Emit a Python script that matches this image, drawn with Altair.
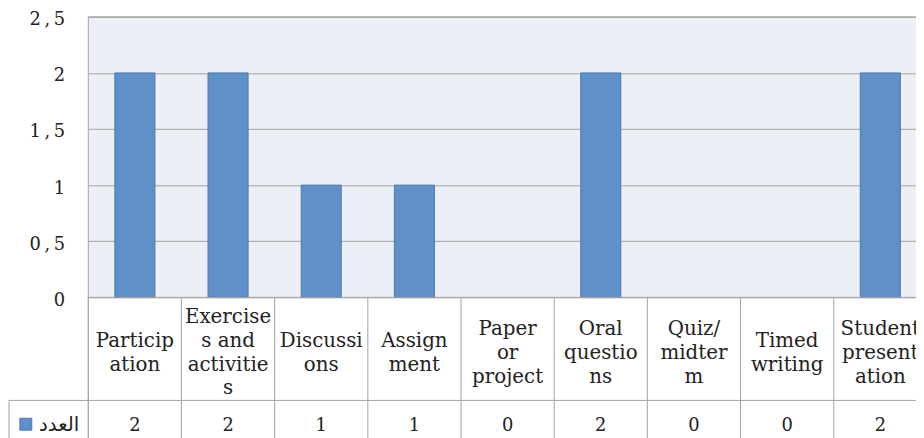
import altair as alt
import pandas as pd

categories = ["Participation", "Exercises and activities", "Discussions", "Assignment",
              "Paper or project", "Oral questions", "Quiz/ midterm", "Timed writing",
              "Student presentation"]
wrapped = ["Particip\nation", "Exercise\ns and\nactivitie\ns", "Discussi\nons", "Assign\nment",
           "Paper\nor\nproject", "Oral\nquestio\nns", "Quiz/\nmidter\nm", "Timed\nwriting",
           "Student\npresent\nation"]
values = [2, 2, 1, 1, 0, 2, 0, 0, 2]
series_name = "العدد"
y_ticks = [0, 0.5, 1, 1.5, 2, 2.5]

df = pd.DataFrame({"cat": categories, "label": wrapped, "val": values})
df["nlines"] = df["label"].str.count("\n") + 1
one = pd.DataFrame({"a": [0]})

W, H = 835, 283
RANGE = 846
LINE = "#A3A3A3"
BAR = "#6090C8"
BAR_STROKE = "#4A78AE"
SERIF = "DejaVu Serif"
TXT = "#222222"

xscale = alt.Scale(domain=categories, range=[0, RANGE], paddingInner=0, paddingOuter=0)
X = alt.X("cat:N", scale=xscale, axis=None)

bars = alt.Chart(df).transform_filter("datum.val > 0").mark_bar(
    width={"band": 0.43}, color=BAR, stroke=BAR_STROKE, strokeWidth=1
).encode(
    x=X,
    y=alt.Y("val:Q", scale=alt.Scale(domain=[0, 2.5], nice=False),
            axis=alt.Axis(values=y_ticks, title=None, domain=False, ticks=False, tickSize=0,
                          grid=True, gridColor=LINE, gridWidth=1,
                          labelExpr="replace(format(datum.value, '.1~f'), '.', '\u2009,\u2009')",
                          labelFont=SERIF, labelFontSize=18, labelColor=TXT,
                          labelPadding=24, labelOffset=3)),
)

# first-line baseline (view px) depending on number of wrapped lines
first_baseline = {2: 333, 3: 321, 4: 309}
cat_layers = []
for n, yb in first_baseline.items():
    cat_layers.append(
        alt.Chart(df).transform_filter(f"datum.nlines == {n}").mark_text(
            lineBreak="\n", lineHeight=24, font=SERIF, fontSize=20, baseline="alphabetic",
            align="center", color=TXT
        ).encode(x=X, y=alt.value(yb), text="label:N")
    )

val_text = alt.Chart(df).mark_text(
    font=SERIF, fontSize=18, baseline="alphabetic", align="center", color=TXT
).encode(x=X, y=alt.value(418), text="val:Q")

vlines = alt.Chart(df).mark_rule(color=LINE, strokeWidth=1).encode(
    x=alt.X("cat:N", scale=xscale, axis=None, bandPosition=0),
    y=alt.value(283), y2=alt.value(430))

def hrule(y, x1, x2):
    return alt.Chart(one).mark_rule(color=LINE, strokeWidth=1).encode(
        y=alt.value(y), x=alt.value(x1), x2=alt.value(x2))

def vrule(x, y1, y2):
    return alt.Chart(one).mark_rule(color=LINE, strokeWidth=1).encode(
        x=alt.value(x), y=alt.value(y1), y2=alt.value(y2))

borders = [hrule(0, 0, RANGE), hrule(283, 0, RANGE), hrule(387, -80, RANGE),
           vrule(0, 0, 430), vrule(-80, 387, 430)]

legend_sq = alt.Chart(one).mark_rect(color=BAR, stroke=BAR_STROKE, strokeWidth=1).encode(
    x=alt.value(-69), x2=alt.value(-57), y=alt.value(405), y2=alt.value(417))
legend_txt = alt.Chart(one).mark_text(
    font="DejaVu Sans", fontSize=20, align="right", baseline="alphabetic", color=TXT,
    text=series_name).encode(x=alt.value(-9), y=alt.value(418))

chart = alt.layer(bars, vlines, *borders, *cat_layers, val_text, legend_sq, legend_txt).properties(
    width=W, height=H,
    autosize=alt.AutoSizeParams(type="none"),
    padding={"left": 81, "top": 7, "right": 0, "bottom": 140},
    background="white",
).configure_view(fill="#ECEFF5", stroke=None)

chart.save("out.html", embed_options={"renderer": "svg", "actions": False})
